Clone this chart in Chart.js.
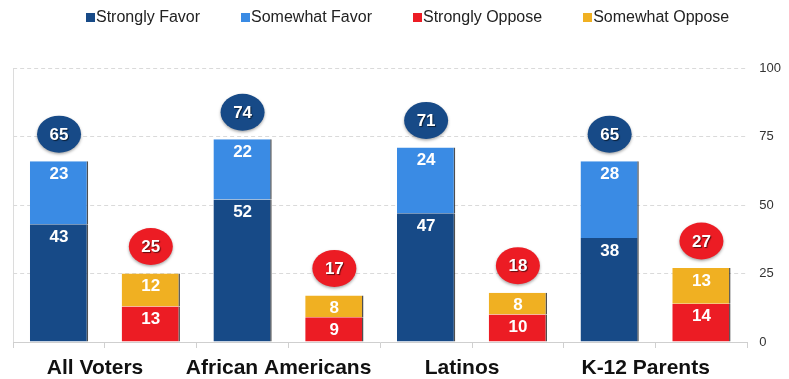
<!DOCTYPE html>
<html>
<head>
<meta charset="utf-8">
<script src="https://cdn.jsdelivr.net/npm/chart.js@4/dist/chart.umd.min.js"></script>
<style>
  html, body { margin: 0; padding: 0; background: #fff; }
  #wrap { position: relative; width: 789px; height: 379px; }
  #legend { position: absolute; top: 8px; left: 86px; display: flex; gap: 41px;
    font: 16px "Liberation Sans", Arial, sans-serif; color: #222; line-height: 18px; }
  #legend .item { display: flex; align-items: center; }
  #legend .box { width: 9px; height: 9px; margin-right: 1px; }
  canvas { position: absolute; left: 0; top: 0; }
</style>
</head>
<body>
<div id="wrap">
  <canvas id="c" width="789" height="379"></canvas>
  <div id="legend"></div>
</div>
<script>
const categories = ['All Voters', 'African Americans', 'Latinos', 'K-12 Parents'];
const stronglyFavor = [43, 52, 47, 38];
const somewhatFavor = [23, 22, 24, 28];
const stronglyOppose = [13, 9, 10, 14];
const somewhatOppose = [12, 8, 8, 13];
const totalFavor = [65, 74, 71, 65];
const totalOppose = [25, 17, 18, 27];
const yTicks = [0, 25, 50, 75, 100];

const seriesNames = ['Strongly Favor', 'Somewhat Favor', 'Strongly Oppose', 'Somewhat Oppose'];
const colors = ['#174A87', '#3A8BE4', '#EC1C24', '#F0B022'];
const FONT = '"Liberation Sans", Arial, sans-serif';

// legend (HTML, real text)
const legendEl = document.getElementById('legend');
seriesNames.forEach((n, i) => {
  const it = document.createElement('div'); it.className = 'item';
  const b = document.createElement('div'); b.className = 'box'; b.style.background = colors[i];
  const t = document.createElement('span'); t.textContent = n;
  it.appendChild(b); it.appendChild(t); legendEl.appendChild(it);
});

// 8 slots: favor bar then oppose bar for each category
const slotLabels = categories.flatMap(c => [c, '']);
const favorSlots = arr => arr.flatMap(v => [v, null]);
const opposeSlots = arr => arr.flatMap(v => [null, v]);

const seriesData = [
  favorSlots(stronglyFavor),
  favorSlots(somewhatFavor),
  opposeSlots(stronglyOppose),
  opposeSlots(somewhatOppose)
];
const totalsSlots = categories.flatMap((c, i) => [totalFavor[i], totalOppose[i]]);

const labelPlugin = {
  id: 'labels',
  afterDatasetsDraw(chart) {
    const ctx = chart.ctx;
    ctx.save();
    ctx.textAlign = 'center';
    ctx.textBaseline = 'middle';
    chart.data.datasets.forEach((ds, di) => {
      const meta = chart.getDatasetMeta(di);
      meta.data.forEach((el, j) => {
        const v = ds.data[j];
        if (v === null || v === undefined) return;
        ctx.font = 'bold 17px ' + FONT;
        ctx.fillStyle = '#ffffff';
        ctx.fillText(String(v), el.x, el.y + 13);
      });
    });
    [1, 3].forEach(di => {
      const meta = chart.getDatasetMeta(di);
      const ds = chart.data.datasets[di];
      meta.data.forEach((el, j) => {
        if (ds.data[j] === null || ds.data[j] === undefined) return;
        const cx = el.x, cy = el.y - 27;
        ctx.save();
        ctx.shadowColor = 'rgba(0,0,0,0.35)';
        ctx.shadowBlur = 3;
        ctx.shadowOffsetY = 1.5;
        ctx.beginPath();
        ctx.ellipse(cx, cy, 22, 18.5, 0, 0, Math.PI * 2);
        ctx.fillStyle = di === 1 ? '#174A87' : '#EC1C24';
        ctx.fill();
        ctx.restore();
        ctx.save();
        ctx.font = 'bold 17px ' + FONT;
        ctx.shadowColor = 'rgba(0,0,0,0.6)';
        ctx.shadowBlur = 1;
        ctx.shadowOffsetX = 1;
        ctx.shadowOffsetY = 1;
        ctx.fillStyle = '#ffffff';
        ctx.fillText(String(totalsSlots[j]), cx, cy + 1);
        ctx.restore();
      });
    });
    ctx.restore();
  }
};

new Chart(document.getElementById('c'), {
  type: 'bar',
  data: {
    labels: slotLabels,
    datasets: seriesData.map((d, i) => ({
      label: seriesNames[i],
      data: d,
      backgroundColor: colors[i],
      borderColor: 'rgba(20,20,20,0.75)',
      borderWidth: { top: 0, right: 1.5, bottom: 0, left: 0 },
      borderSkipped: false,
      categoryPercentage: 1,
      barPercentage: 0.635
    }))
  },
  options: {
    responsive: false,
    animation: false,
    devicePixelRatio: 1,
    layout: { padding: { top: 68, left: 13, right: -4, bottom: -10 } },
    plugins: { legend: { display: false }, tooltip: { enabled: false } },
    scales: {
      x: {
        stacked: true,
        offset: true,
        grid: {
          offset: true,
          color: c => c.index === 0 ? '#dcdcdc' : 'rgba(0,0,0,0)',
          tickColor: '#d0d0d0',
          tickLength: 6,
          drawTicks: true
        },
        border: { display: true, color: '#cfcfcf' },
        ticks: {
          font: { family: FONT, size: 21, weight: 'bold', lineHeight: 1 },
          color: '#111',
          labelOffset: 36,
          padding: 10,
          autoSkip: false,
          maxRotation: 0,
          minRotation: 0
        }
      },
      y: {
        position: 'right',
        stacked: true,
        min: 0,
        max: 100,
        afterBuildTicks: s => { s.ticks = yTicks.map(v => ({ value: v })); },
        ticks: {
          font: { family: FONT, size: 13 },
          color: '#333',
          padding: 12
        },
        grid: {
          color: c => c.index === 0 ? 'rgba(0,0,0,0)' : '#dadada',
          drawTicks: false
        },
        border: { display: false, dash: [4, 3] }
      }
    }
  },
  plugins: [labelPlugin]
});
</script>
</body>
</html>
